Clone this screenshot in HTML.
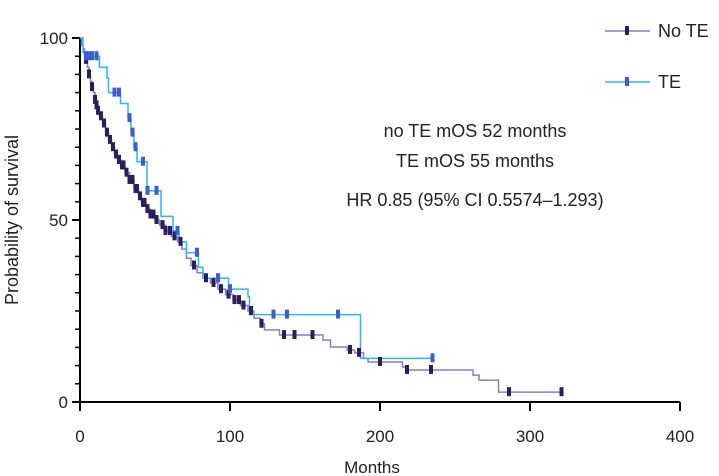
<!DOCTYPE html>
<html><head><meta charset="utf-8"><style>
body{margin:0;background:#fff;}
svg{display:block;font-family:"Liberation Sans",sans-serif;}
</style></head><body>
<svg id="chart" width="719" height="476"></svg>
<script>
const noTeSteps=[[0,100],[1,98],[2,97],[3,96],[4,94],[5,92],[6,90],[7,88],[8,86.5],[9,85],[10,83],[11,81.5],[12,80],[13,78.5],[15,76.5],[17,74],[19,72],[21,70],[23,68],[25,66.5],[27,65],[30,63],[33,61],[36,58.5],[39,56.5],[41,54.7],[44,53],[47,51.5],[50,50],[53,48.6],[57,47],[61,45.5],[65,44],[68,42],[71,39.5],[74,37.5],[78,35.5],[82,34],[87,32.7],[92,31],[97,29.5],[102,28],[107,26.5],[112,25],[116,23],[120,21.5],[123,19.8],[133,18.4],[162,17],[167,15.1],[178,14.3],[183,13.5],[189,12],[192,11],[215,9.6],[218,8.8],[262,7.4],[266,6],[279,2.7]];
const noTeEnd=321;
const noTeCensors=[4,6,8,10,11,12,14,16,18,20,22,24,26,28,29,31,33,35,37,38,40,42,43,45,47,49,51,55,57,60,63,67,76,84,89,94,99,103,106,109,114,121,136,143,155,180,186,200,218,234,286,321];
const teSteps=[[0,100],[2,96],[3,95],[13,92],[18,89],[19,85],[27,82],[32,78],[34,74],[36,70],[38,66],[44.7,58],[54,51],[62,47],[66,44],[71,41],[79,37],[82,34],[99,31],[112,29],[113,24],[187,12]];
const teEnd=235;
const teCensors=[4,6,8,11,23,26,33,35,37,42,45,51,65,78,92,100,129,138,172,235];
const xTicks=[0,100,200,300,400];
const yTicks=[0,50,100];
const X=t=>80+t*1.5, Y=s=>402-s*3.64;
const svg=document.getElementById('chart');
const NS='http://www.w3.org/2000/svg';
function mk(tag,attrs,parent){const e=document.createElementNS(NS,tag);for(const k in attrs)e.setAttribute(k,attrs[k]);(parent||svg).appendChild(e);return e;}
function survAt(steps,t){let v=steps[0][1];for(const s of steps){if(s[0]<=t)v=s[1];}return v;}
function path(steps,end){let d='M'+X(steps[0][0])+' '+Y(steps[0][1]);for(let i=1;i<steps.length;i++){d+=' H'+X(steps[i][0])+' V'+Y(steps[i][1]);}d+=' H'+X(end);return d;}
let ax=mk('path',{d:'M80 38 V402 H680',stroke:'#000','stroke-width':2,fill:'none'});

for(let v=0;v<=100;v+=5){let e=mk('line',{x1:75,x2:80,y1:Y(v),y2:Y(v),stroke:'#000','stroke-width':1.5});}
yTicks.forEach(v=>{let e=mk('line',{x1:72,x2:80,y1:Y(v),y2:Y(v),stroke:'#000','stroke-width':2});
let t=mk('text',{x:68,y:Y(v)+6,'text-anchor':'end','font-size':17,fill:'#222'});t.textContent=v;});
xTicks.forEach(v=>{let e=mk('line',{x1:X(v),x2:X(v),y1:402,y2:411,stroke:'#000','stroke-width':2});
let t=mk('text',{x:X(v),y:442,'text-anchor':'middle','font-size':17,fill:'#222'});t.textContent=v;});
let xt=mk('text',{x:372,y:473,'text-anchor':'middle','font-size':17,fill:'#222'});xt.textContent='Months';
let yt=mk('text',{x:18,y:220,'text-anchor':'middle','font-size':18,fill:'#222',transform:'rotate(-90 18 220)'});yt.textContent='Probability of survival';
const PURPLE='#8e7cc3',DARK='#2b1d5e',CYAN='#29b6f6',BLUE='#3b5fc9';
let p1=mk('path',{d:path(noTeSteps,noTeEnd),stroke:PURPLE,'stroke-width':1.5,fill:'none'});
let p2=mk('path',{d:path(teSteps,teEnd),stroke:CYAN,'stroke-width':1.5,fill:'none'});
noTeCensors.forEach(t=>{let r=mk('rect',{x:X(t)-2,y:Y(survAt(noTeSteps,t))-5,width:4,height:9,fill:DARK});});
teCensors.forEach(t=>{let r=mk('rect',{x:X(t)-2,y:Y(survAt(teSteps,t))-5,width:4,height:9,fill:BLUE});});
let l1=mk('line',{x1:605,x2:650,y1:31,y2:31,stroke:PURPLE,'stroke-width':1.5});
let m1=mk('rect',{x:625,y:26,width:4,height:9,fill:DARK});
let lt1=mk('text',{x:658,y:37,'font-size':18,fill:'#222'});lt1.textContent='No TE';
let l2=mk('line',{x1:605,x2:650,y1:82,y2:82,stroke:CYAN,'stroke-width':1.5});
let m2=mk('rect',{x:625,y:77,width:4,height:9,fill:BLUE});
let lt2=mk('text',{x:658,y:88,'font-size':18,fill:'#222'});lt2.textContent='TE';
const notes=['no TE mOS 52 months','TE mOS 55 months','HR 0.85 (95% CI 0.5574\u20131.293)'];
const noteY=[137,167,206];
notes.forEach((s,i)=>{let t=mk('text',{x:475,y:noteY[i],'text-anchor':'middle','font-size':18,fill:'#222'});t.textContent=s;});
</script>
</body></html>
